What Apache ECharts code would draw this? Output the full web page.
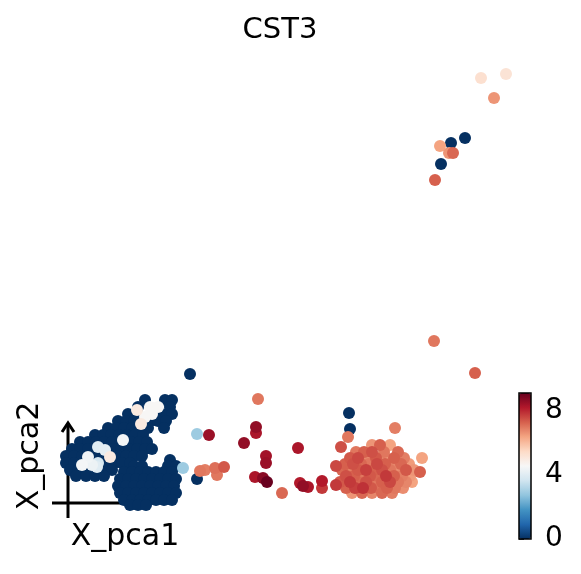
<!DOCTYPE html>
<html>
<head>
<meta charset="utf-8">
<script src="https://cdn.jsdelivr.net/npm/echarts@6/dist/echarts.min.js"></script>
<style>
  html, body { margin: 0; padding: 0; background: #fff; }
  #chart { width: 581px; height: 574px; }
</style>
</head>
<body>
<div id="chart"></div>
<script>
// each cell: [X_pca1, X_pca2, CST3]
const upperCluster = [
  [14.5, 16.0, 0], [16.5, 16.0, 0], [17.2, 16.0, 0],
  [13.8, 15.3, 0], [15.0, 15.3, 4.6], [15.8, 15.3, 4.6], [17.0, 15.3, 0],
  [12.8, 14.6, 0], [13.6, 14.6, 0], [13.7, 15.0, 5.0], [15.2, 14.6, 4.6], [16.2, 14.6, 0], [17.2, 14.6, 0], [14.5, 14.3, 4.6],
  [11.8, 13.9, 0], [12.6, 13.9, 0], [13.4, 13.9, 0], [15.0, 13.9, 0], [15.8, 13.9, 0], [16.6, 13.9, 0], [14.1, 13.6, 5.0],
  [10.8, 13.2, 0], [11.6, 13.2, 0], [12.4, 13.2, 0], [13.2, 13.2, 0], [14.0, 13.2, 0], [14.8, 13.2, 0], [16.4, 13.2, 0],
  [9.5, 12.5, 0], [10.3, 12.5, 0], [11.1, 12.5, 0], [11.9, 12.5, 0], [12.7, 12.5, 0], [13.5, 12.5, 0], [14.3, 12.5, 0],
  [8.0, 11.8, 0], [8.8, 11.8, 0], [9.6, 11.8, 0], [10.4, 11.8, 0], [11.2, 11.8, 0], [12.0, 11.8, 0], [13.1, 11.8, 0], [13.9, 11.8, 0], [14.7, 11.8, 0], [12.3, 12.0, 4.5],
  [7.2, 11.1, 0], [8.0, 11.1, 0], [8.8, 11.1, 0], [11.3, 11.1, 0], [12.1, 11.1, 0], [12.9, 11.1, 0], [13.7, 11.1, 0], [14.5, 11.1, 0], [15.2, 11.1, 0], [9.8, 11.3, 4.0], [10.5, 11.0, 4.1],
  [6.6, 10.4, 0], [7.4, 10.4, 0], [8.2, 10.4, 0], [9.6, 10.4, 0], [10.4, 10.4, 0], [11.8, 10.4, 0], [12.6, 10.4, 0], [13.4, 10.4, 0], [14.2, 10.4, 0], [8.8, 10.3, 4.4], [11.0, 10.3, 5.0],
  [6.6, 9.7, 0], [7.4, 9.7, 0], [10.6, 9.7, 0], [11.4, 9.7, 0], [12.2, 9.7, 0], [13.0, 9.7, 0], [8.2, 9.5, 4.5], [9.2, 9.5, 4.3], [9.8, 9.7, 3.8], [9.7, 9.3, 4.0],
  [7.0, 9.0, 0], [7.8, 9.0, 0], [8.6, 9.0, 0], [10.4, 9.0, 0], [11.2, 9.0, 0],
  [7.6, 8.4, 0], [8.6, 8.4, 0], [9.5, 8.4, 0], [10.4, 8.4, 0]
];
const lowerCluster = [
  [17.0, 10.0, 0],
  [13.4, 9.4, 0], [14.2, 9.4, 0], [16.8, 9.4, 0], [17.6, 9.4, 0],
  [12.4, 8.8, 0], [13.2, 8.8, 0], [14.0, 8.8, 0], [14.8, 8.8, 0], [15.6, 8.8, 0], [16.4, 8.8, 0], [17.2, 8.8, 0],
  [12.0, 8.1, 0], [12.8, 8.1, 0], [13.6, 8.1, 0], [14.4, 8.1, 0], [15.2, 8.1, 0], [16.0, 8.1, 0], [16.8, 8.1, 0], [17.6, 8.1, 0],
  [11.8, 7.4, 0], [12.6, 7.4, 0], [13.4, 7.4, 0], [14.2, 7.4, 0], [15.0, 7.4, 0], [15.8, 7.4, 0], [16.6, 7.4, 0], [17.4, 7.4, 0],
  [12.0, 6.7, 0], [12.8, 6.7, 0], [13.6, 6.7, 0], [14.4, 6.7, 0], [15.2, 6.7, 0], [16.0, 6.7, 0], [16.8, 6.7, 0], [17.6, 6.7, 0],
  [12.4, 6.0, 0], [13.2, 6.0, 0], [14.0, 6.0, 0], [14.8, 6.0, 0], [15.6, 6.0, 0], [16.4, 6.0, 0], [17.2, 6.0, 0],
  [13.0, 5.5, 0], [13.8, 5.5, 0], [14.6, 5.5, 0]
];
const scattered = [
  [19.0, 18.6, 0], [19.7, 8.1, 0], [34.9, 14.7, 0], [35.0, 13.1, 0],
  [19.7, 12.6, 2.9], [18.3, 9.2, 2.9],
  [25.8, 16.1, 7.0], [20.9, 12.5, 8.5], [25.6, 13.3, 8.6], [25.6, 12.7, 8.3], [24.4, 11.7, 8.6],
  [26.6, 10.4, 8.4], [26.6, 9.7, 8.5], [29.8, 11.2, 8.3], [25.5, 8.3, 8.3], [26.3, 8.2, 8.7],
  [26.7, 7.8, 9.1], [28.2, 6.7, 7.2], [30.0, 7.7, 8.2], [30.3, 7.4, 8.6], [30.8, 7.3, 8.3],
  [32.2, 7.9, 8.2], [32.2, 7.2, 7.8],
  [20.0, 8.9, 7.0], [20.5, 9.0, 6.9], [21.5, 9.2, 7.1], [22.4, 9.3, 7.4], [21.7, 8.5, 7.0]
];
const outliers = [
  [48.1, 48.2, 5.3], [50.6, 48.6, 5.2], [49.4, 46.2, 6.6],
  [44.0, 41.4, 6.4], [45.3, 40.7, 7.2], [44.9, 40.7, 6.6], [43.5, 38.0, 7.3],
  [45.1, 41.7, 0], [46.5, 42.2, 0], [44.1, 39.6, 0],
  [43.4, 21.9, 7.0], [47.5, 18.7, 7.3]
];
const rightCluster = [
  [33.6, 9.4, 7.6], [33.6, 7.5, 7.8], [34.1, 11.3, 7.5], [34.8, 12.3, 7.0], [39.5, 13.2, 6.9], [42.2, 10.2, 6.4], [42.0, 8.8, 7.3],
  [37.2, 11.5, 6.6], [38.0, 11.5, 7.3], [39.0, 11.5, 6.4],
  [35.6, 10.8, 7.0], [36.4, 10.8, 7.3], [37.2, 10.8, 7.5], [38.4, 10.8, 7.0], [39.8, 10.8, 7.2],
  [35.0, 10.2, 7.4], [35.8, 10.2, 7.6], [36.6, 10.2, 6.8], [37.6, 10.2, 7.4], [38.6, 10.2, 6.6], [39.4, 10.2, 7.3], [40.4, 10.2, 6.9],
  [34.5, 9.6, 7.3], [35.3, 9.6, 7.5], [36.1, 9.6, 7.2], [36.9, 9.6, 7.0], [37.7, 9.6, 7.6], [38.5, 9.6, 7.3], [39.3, 9.6, 6.8], [40.1, 9.6, 7.2], [40.9, 9.6, 6.5],
  [34.2, 9.0, 7.2], [35.0, 9.0, 6.9], [35.8, 9.0, 7.4], [36.6, 9.0, 7.7], [37.4, 9.0, 7.3], [38.2, 9.0, 7.5], [39.0, 9.0, 7.0], [39.8, 9.0, 6.7], [40.6, 9.0, 7.4], [41.4, 9.0, 6.6],
  [34.6, 8.4, 7.5], [35.4, 8.4, 7.3], [36.2, 8.4, 7.0], [37.0, 8.4, 7.4], [37.8, 8.4, 7.2], [38.6, 8.4, 7.8], [39.4, 8.4, 7.3], [40.2, 8.4, 6.9], [41.0, 8.4, 6.5],
  [34.0, 7.8, 7.4], [35.0, 7.8, 7.8], [35.8, 7.8, 7.2], [36.6, 7.8, 7.5], [37.4, 7.8, 7.0], [38.2, 7.8, 7.3], [39.0, 7.8, 7.6], [39.8, 7.8, 7.0], [40.6, 7.8, 6.8], [41.2, 7.8, 6.4],
  [34.6, 7.2, 7.3], [35.5, 7.2, 7.7], [36.3, 7.2, 7.9], [37.1, 7.2, 7.4], [37.9, 7.2, 7.1], [38.7, 7.2, 7.3], [39.5, 7.2, 7.0], [40.3, 7.2, 6.7],
  [35.2, 6.7, 6.6], [36.2, 6.7, 7.2], [37.2, 6.7, 6.8], [38.2, 6.7, 7.2], [39.2, 6.7, 6.9]
];
const colorTicks = [0, 4, 8];
const colorMax = 9.125;
const rdBuR = ['#053061', '#2166ac', '#4393c3', '#92c5de', '#d1e5f0', '#f7f7f7',
               '#fddbc7', '#f4a582', '#d6604d', '#b2182b', '#67001f'];

// higher expression drawn on top, as scanpy does
const cells = [].concat(upperCluster, lowerCluster, scattered, outliers, rightCluster)
  .sort(function (a, b) { return a[2] - b[2]; });

const font = 'DejaVu Sans';
const chart = echarts.init(document.getElementById('chart'));
chart.setOption({
  backgroundColor: '#fff',
  animation: false,
  grid: [
    { left: 0, top: 0, width: 581, height: 560 },
    { left: 519, top: 393, width: 12, height: 146 }
  ],
  xAxis: [
    { gridIndex: 0, type: 'value', min: 0, max: 58.1, show: false },
    { gridIndex: 1, type: 'value', min: 0, max: 1, show: false }
  ],
  yAxis: [
    { gridIndex: 0, type: 'value', min: 0, max: 56, show: false },
    {
      gridIndex: 1, type: 'value', position: 'right', min: 0, max: colorMax, interval: 4,
      axisLine: { show: false },
      axisTick: { show: true, length: 5, lineStyle: { color: '#000', width: 1.5 },
        customValues: colorTicks },
      axisLabel: { fontSize: 28, fontFamily: font, color: '#000', margin: 14,
        customValues: colorTicks },
      splitLine: { show: false }
    }
  ],
  visualMap: {
    type: 'continuous',
    seriesIndex: 0,
    dimension: 2,
    min: 0,
    max: colorMax,
    calculable: false,
    left: 519,
    top: 393,
    itemWidth: 12,
    itemHeight: 146,
    padding: 0,
    text: ['', ''],
    showLabel: false,
    inRange: { color: rdBuR }
  },
  series: [
    {
      type: 'scatter',
      xAxisIndex: 0,
      yAxisIndex: 0,
      symbolSize: 12,
      itemStyle: { opacity: 1 },
      data: cells,
      z: 3
    }
  ],
  graphic: [
    { type: 'text', x: 280, y: 30, z: 10,
      style: { text: 'CST3', font: '29px "DejaVu Sans"', fill: '#000',
        textAlign: 'center', textVerticalAlign: 'middle' } },
    // colorbar frame
    { type: 'rect', z: 100, shape: { x: 519, y: 393, width: 12, height: 146 },
      style: { fill: 'none', stroke: '#000', lineWidth: 1.5 } },
    // frameless axis arrows
    { type: 'polyline', z: 1, shape: { points: [[52, 503], [146, 503]] },
      style: { stroke: '#000', lineWidth: 3, fill: 'none' } },
    { type: 'polyline', z: 1, shape: { points: [[138, 497], [146, 503], [138, 509]] },
      style: { stroke: '#000', lineWidth: 3, fill: 'none' } },
    { type: 'polyline', z: 1, shape: { points: [[68, 518], [68, 423]] },
      style: { stroke: '#000', lineWidth: 3, fill: 'none' } },
    { type: 'polyline', z: 1, shape: { points: [[62, 432], [68, 423], [74, 432]] },
      style: { stroke: '#000', lineWidth: 3, fill: 'none' } },
    { type: 'text', x: 125, y: 537, z: 10,
      style: { text: 'X_pca1', font: '30px "DejaVu Sans"', fill: '#000',
        textAlign: 'center', textVerticalAlign: 'middle' } },
    { type: 'text', x: 30, y: 456, rotation: Math.PI / 2, z: 10,
      style: { text: 'X_pca2', font: '30px "DejaVu Sans"', fill: '#000',
        textAlign: 'center', textVerticalAlign: 'middle' } }
  ]
});
</script>
</body>
</html>
